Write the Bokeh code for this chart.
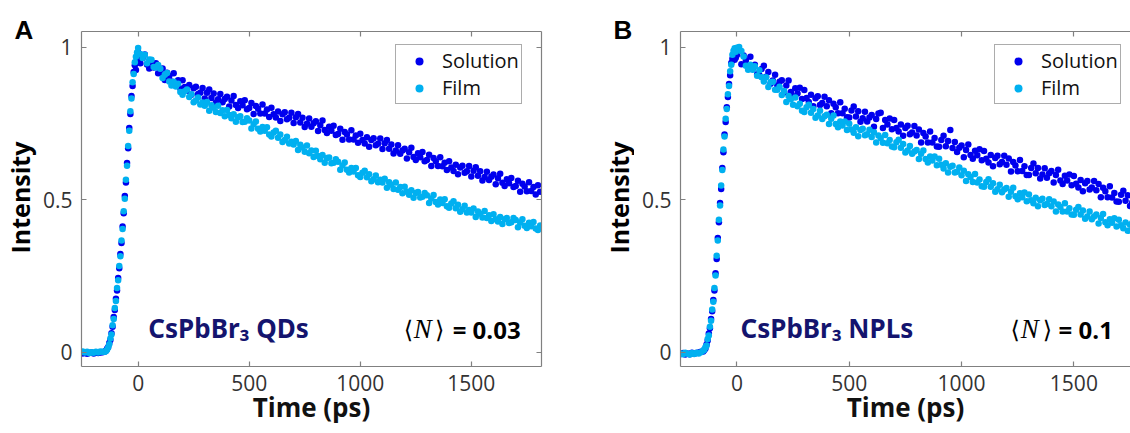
import math
from bokeh.plotting import figure
from bokeh.models import Range1d, LinearAxis, Label, Legend, LegendItem, FixedTicker
from bokeh.layouts import row
from bokeh.embed import file_html
from bokeh.resources import INLINE

# ---------------- data ----------------
time_ps = list(range(-250, -150, 10)) + list(range(-150, 0, 5)) + list(range(0, 1820, 10))

qd_solution = [
    -0.004, -0.002, -0.005, -0.003, -0.001, -0.004, -0.002, -0.003, -0.001, 0.000,
    0.002, 0.005, 0.011, 0.017, 0.030, 0.040, 0.062, 0.083, 0.115, 0.138,
    0.175, 0.202, 0.243, 0.275, 0.322, 0.358, 0.412, 0.455, 0.512, 0.556,
    0.620, 0.668, 0.735, 0.781, 0.840, 0.872, 0.918, 0.940, 0.925, 0.960,
    0.982, 0.947, 0.964, 0.976, 0.943, 0.930, 0.949, 0.933, 0.947, 0.914,
    0.915, 0.930, 0.892, 0.916, 0.905, 0.887, 0.914, 0.881, 0.891, 0.864,
    0.891, 0.869, 0.857, 0.876, 0.844, 0.865, 0.870, 0.846, 0.850, 0.866,
    0.831, 0.850, 0.861, 0.833, 0.848, 0.818, 0.829, 0.846, 0.819, 0.830,
    0.837, 0.805, 0.825, 0.840, 0.810, 0.800, 0.822, 0.809, 0.826, 0.796,
    0.800, 0.817, 0.781, 0.807, 0.798, 0.782, 0.812, 0.782, 0.795, 0.771,
    0.801, 0.780, 0.769, 0.789, 0.758, 0.780, 0.786, 0.763, 0.768, 0.785,
    0.751, 0.770, 0.781, 0.753, 0.768, 0.738, 0.749, 0.766, 0.739, 0.750,
    0.757, 0.725, 0.744, 0.759, 0.728, 0.718, 0.739, 0.726, 0.742, 0.712,
    0.715, 0.732, 0.696, 0.722, 0.713, 0.697, 0.727, 0.697, 0.710, 0.686,
    0.716, 0.695, 0.684, 0.704, 0.673, 0.695, 0.701, 0.678, 0.683, 0.700,
    0.666, 0.685, 0.695, 0.667, 0.681, 0.651, 0.661, 0.678, 0.650, 0.661,
    0.667, 0.635, 0.655, 0.670, 0.640, 0.630, 0.652, 0.639, 0.656, 0.626,
    0.630, 0.647, 0.610, 0.636, 0.626, 0.610, 0.639, 0.609, 0.621, 0.597,
    0.626, 0.605, 0.594, 0.614, 0.583, 0.605, 0.611, 0.588, 0.593, 0.610,
    0.576, 0.595, 0.606, 0.578, 0.593, 0.563, 0.574, 0.591, 0.564, 0.575,
    0.582, 0.550, 0.570, 0.585, 0.555, 0.545, 0.567, 0.554, 0.571, 0.541,
    0.545, 0.562, 0.526, 0.552, 0.543, 0.527, 0.557, 0.528, 0.541, 0.517,
    0.547, 0.526,
]

qd_film = [
    0.002, -0.001, 0.001, -0.003, 0.000, -0.002, 0.001, -0.001, 0.002, 0.001,
    0.001, 0.004, 0.008, 0.015, 0.026, 0.045, 0.058, 0.088, 0.109, 0.145,
    0.168, 0.210, 0.236, 0.282, 0.314, 0.366, 0.404, 0.462, 0.503, 0.565,
    0.611, 0.676, 0.726, 0.790, 0.831, 0.885, 0.912, 0.950, 0.968, 0.982,
    0.997, 0.977, 0.964, 0.975, 0.947, 0.959, 0.958, 0.935, 0.933, 0.941,
    0.929, 0.899, 0.909, 0.915, 0.887, 0.874, 0.886, 0.871, 0.880, 0.853,
    0.844, 0.855, 0.861, 0.836, 0.845, 0.819, 0.825, 0.835, 0.812, 0.818,
    0.808, 0.820, 0.791, 0.809, 0.801, 0.787, 0.808, 0.784, 0.793, 0.773,
    0.794, 0.777, 0.767, 0.780, 0.755, 0.770, 0.773, 0.754, 0.755, 0.767,
    0.759, 0.733, 0.747, 0.756, 0.732, 0.723, 0.738, 0.726, 0.737, 0.713,
    0.707, 0.720, 0.726, 0.703, 0.713, 0.689, 0.695, 0.706, 0.684, 0.690,
    0.681, 0.692, 0.663, 0.680, 0.671, 0.657, 0.677, 0.652, 0.661, 0.640,
    0.660, 0.643, 0.632, 0.646, 0.621, 0.636, 0.638, 0.619, 0.621, 0.632,
    0.624, 0.598, 0.612, 0.622, 0.598, 0.589, 0.604, 0.592, 0.604, 0.580,
    0.574, 0.588, 0.595, 0.573, 0.583, 0.560, 0.567, 0.579, 0.557, 0.565,
    0.556, 0.568, 0.539, 0.557, 0.549, 0.535, 0.556, 0.532, 0.541, 0.521,
    0.542, 0.526, 0.516, 0.531, 0.506, 0.522, 0.525, 0.507, 0.509, 0.522,
    0.514, 0.489, 0.504, 0.515, 0.492, 0.484, 0.500, 0.489, 0.501, 0.478,
    0.473, 0.487, 0.495, 0.472, 0.483, 0.460, 0.468, 0.480, 0.458, 0.466,
    0.458, 0.471, 0.443, 0.461, 0.454, 0.441, 0.463, 0.440, 0.449, 0.430,
    0.452, 0.436, 0.428, 0.443, 0.420, 0.436, 0.440, 0.423, 0.426, 0.440,
    0.433, 0.409, 0.425, 0.436, 0.414, 0.407, 0.424, 0.413, 0.427, 0.405,
    0.400, 0.415,
]

npl_solution = [
    -0.006, -0.003, -0.008, -0.004, -0.007, -0.002, -0.005, -0.003, -0.001, 0.001,
    0.002, 0.007, 0.012, 0.025, 0.038, 0.061, 0.078, 0.109, 0.134, 0.171,
    0.202, 0.259, 0.305, 0.374, 0.426, 0.489, 0.535, 0.604, 0.655, 0.713,
    0.754, 0.803, 0.836, 0.879, 0.908, 0.948, 0.962, 0.971, 0.958, 0.965,
    0.974, 0.991, 0.944, 0.972, 0.957, 0.934, 0.968, 0.929, 0.942, 0.911,
    0.908, 0.928, 0.939, 0.903, 0.918, 0.880, 0.890, 0.909, 0.874, 0.886,
    0.891, 0.851, 0.874, 0.890, 0.853, 0.839, 0.865, 0.848, 0.867, 0.830,
    0.859, 0.833, 0.820, 0.844, 0.806, 0.832, 0.839, 0.810, 0.817, 0.837,
    0.806, 0.826, 0.783, 0.814, 0.803, 0.783, 0.819, 0.783, 0.798, 0.770,
    0.769, 0.792, 0.805, 0.772, 0.790, 0.755, 0.767, 0.788, 0.756, 0.769,
    0.777, 0.739, 0.764, 0.782, 0.785, 0.735, 0.761, 0.746, 0.766, 0.731,
    0.761, 0.735, 0.723, 0.746, 0.709, 0.735, 0.742, 0.714, 0.720, 0.741,
    0.710, 0.730, 0.687, 0.718, 0.707, 0.687, 0.723, 0.687, 0.702, 0.674,
    0.673, 0.695, 0.709, 0.675, 0.692, 0.728, 0.669, 0.689, 0.656, 0.670,
    0.677, 0.639, 0.663, 0.681, 0.646, 0.634, 0.660, 0.645, 0.665, 0.629,
    0.659, 0.634, 0.622, 0.646, 0.609, 0.636, 0.644, 0.616, 0.623, 0.644,
    0.614, 0.635, 0.592, 0.623, 0.612, 0.593, 0.630, 0.594, 0.609, 0.581,
    0.581, 0.604, 0.618, 0.586, 0.604, 0.569, 0.582, 0.603, 0.572, 0.586,
    0.594, 0.556, 0.581, 0.598, 0.563, 0.551, 0.578, 0.563, 0.582, 0.547,
    0.577, 0.552, 0.540, 0.564, 0.527, 0.554, 0.561, 0.533, 0.540, 0.561,
    0.531, 0.551, 0.508, 0.539, 0.527, 0.508, 0.544, 0.507, 0.522, 0.494,
    0.493, 0.516, 0.529, 0.496, 0.514, 0.479, 0.491, 0.512, 0.480, 0.493,
    0.501, 0.463,
]

npl_film = [
    -0.004, -0.007, -0.002, -0.005, -0.008, -0.003, -0.006, -0.002, -0.004, 0.000,
    0.005, 0.009, 0.016, 0.022, 0.043, 0.055, 0.083, 0.103, 0.140, 0.165,
    0.210, 0.251, 0.316, 0.366, 0.434, 0.481, 0.546, 0.597, 0.664, 0.707,
    0.765, 0.797, 0.845, 0.872, 0.921, 0.942, 0.975, 0.988, 0.996, 0.985,
    0.998, 1.000, 0.987, 0.969, 0.939, 0.926, 0.942, 0.926, 0.937, 0.906,
    0.924, 0.901, 0.887, 0.901, 0.869, 0.885, 0.886, 0.860, 0.860, 0.870,
    0.843, 0.856, 0.820, 0.840, 0.829, 0.811, 0.835, 0.806, 0.814, 0.791,
    0.787, 0.803, 0.811, 0.785, 0.797, 0.768, 0.776, 0.791, 0.764, 0.773,
    0.778, 0.748, 0.765, 0.776, 0.748, 0.737, 0.756, 0.743, 0.756, 0.728,
    0.749, 0.730, 0.719, 0.737, 0.708, 0.728, 0.732, 0.711, 0.714, 0.729,
    0.705, 0.721, 0.687, 0.710, 0.701, 0.686, 0.712, 0.685, 0.695, 0.674,
    0.672, 0.688, 0.696, 0.670, 0.682, 0.654, 0.661, 0.676, 0.650, 0.658,
    0.663, 0.633, 0.650, 0.661, 0.633, 0.622, 0.641, 0.628, 0.641, 0.613,
    0.634, 0.614, 0.602, 0.619, 0.589, 0.608, 0.611, 0.589, 0.591, 0.605,
    0.580, 0.595, 0.561, 0.583, 0.574, 0.558, 0.584, 0.556, 0.566, 0.544,
    0.542, 0.558, 0.567, 0.542, 0.554, 0.526, 0.534, 0.549, 0.524, 0.533,
    0.538, 0.509, 0.526, 0.539, 0.511, 0.501, 0.521, 0.508, 0.523, 0.495,
    0.517, 0.498, 0.488, 0.506, 0.478, 0.498, 0.503, 0.482, 0.486, 0.501,
    0.478, 0.494, 0.461, 0.484, 0.476, 0.461, 0.488, 0.461, 0.472, 0.451,
    0.450, 0.467, 0.476, 0.451, 0.464, 0.437, 0.445, 0.461, 0.436, 0.445,
    0.451, 0.422, 0.440, 0.453, 0.426, 0.416, 0.436, 0.424, 0.439, 0.412,
    0.434, 0.416, 0.406, 0.425, 0.398, 0.418, 0.424, 0.403, 0.408, 0.424,
    0.401, 0.418,
]

series_names = ["Solution", "Film"]
x_ticks = [0, 500, 1000, 1500]
y_ticks = [0, 0.5, 1]
y_tick_labels = {0: "0", 0.5: "0.5", 1: "1"}

SOL_COLOR = "#0000ee"
FILM_COLOR = "#00b0f0"
NAVY = "#14146e"
AX_COLOR = "#808080"
TICK_TXT = "#333333"
FONT = "Open Sans"
H = 433


def style_axis(ax, ticks, show_labels=True):
    ax.ticker = FixedTicker(ticks=ticks)
    ax.axis_line_color = AX_COLOR
    ax.axis_line_width = 1.2
    ax.major_tick_line_color = AX_COLOR
    ax.major_tick_line_width = 1.2
    ax.major_tick_in = 5
    ax.major_tick_out = 0
    ax.minor_tick_line_color = None
    if show_labels:
        ax.major_label_text_font = FONT
        ax.major_label_text_font_size = "21px"
        ax.major_label_text_color = TICK_TXT
    else:
        ax.major_label_overrides = {t: "" for t in ticks}
        ax.major_label_text_font_size = "1px"
        ax.major_label_standoff = 0


def lab(p, x, y, text, size, font=FONT, style="normal", color="#000000",
        align="left", angle=0.0):
    p.add_layout(Label(x=x, y=y, text=text, text_font=font,
                       text_font_size=f"{size}px", text_font_style=style,
                       text_color=color, text_align=align,
                       text_baseline="middle", angle=angle))


def make_strip(width, letter, letter_x, ylab_x):
    s = figure(width=width, height=H, x_range=Range1d(0, width),
               y_range=Range1d(H, 0), output_backend="svg",
               toolbar_location=None, min_border=0,
               x_axis_location=None, y_axis_location=None)
    try:
        s.frame_align = False
    except Exception:
        pass
    s.xgrid.grid_line_color = None
    s.ygrid.grid_line_color = None
    s.outline_line_color = None
    lab(s, letter_x, 29, letter, 26, font="Liberation Sans", style="bold")
    lab(s, ylab_x, 197, "Intensity", 25, style="bold", align="center",
        angle=math.pi / 2)
    return s


def make_panel(sol, film, x_start, x_end, width, left, right, right_axis,
               sample, sample_x, n_value, n_pos):
    p = figure(width=width, height=H,
               x_range=Range1d(x_start, x_end), y_range=Range1d(-0.047, 1.051),
               output_backend="svg", toolbar_location=None,
               min_border_left=left, min_border_right=right,
               min_border_top=31, min_border_bottom=67)
    p.xgrid.grid_line_color = None
    p.ygrid.grid_line_color = None
    p.outline_line_color = None
    p.background_fill_color = "white"
    p.border_fill_color = "white"

    xa = p.xaxis[0]
    style_axis(xa, x_ticks)
    xa.major_label_standoff = 8
    xa.axis_label = "Time (ps)"
    xa.axis_label_text_font = FONT
    xa.axis_label_text_font_style = "bold"
    xa.axis_label_text_font_size = "26px"
    xa.axis_label_text_color = "#111111"
    xa.axis_label_standoff = -5

    ya = p.yaxis[0]
    style_axis(ya, y_ticks)
    ya.major_label_standoff = 9
    ya.major_label_overrides = y_tick_labels

    top = LinearAxis()
    style_axis(top, x_ticks, show_labels=False)
    p.add_layout(top, "above")
    if right_axis:
        rax = LinearAxis()
        style_axis(rax, y_ticks, show_labels=False)
        p.add_layout(rax, "right")

    r1 = p.scatter(time_ps, sol, size=6.5, marker="circle",
                   fill_color=SOL_COLOR, line_color=None)
    r2 = p.scatter(time_ps, film, size=6.5, marker="circle",
                   fill_color=FILM_COLOR, line_color=None)

    legend = Legend(items=[LegendItem(label=series_names[0], renderers=[r1]),
                           LegendItem(label=series_names[1], renderers=[r2])],
                    location=(314, 262))
    legend.label_text_font = FONT
    legend.label_text_font_size = "20px"
    legend.label_text_color = "#111111"
    legend.glyph_width = 42
    legend.glyph_height = 20
    legend.label_height = 22
    legend.label_standoff = 2
    legend.padding = 2
    legend.spacing = 0
    legend.margin = 0
    legend.border_line_color = "#5a5a5a"
    legend.border_line_width = 1
    legend.background_fill_color = "white"
    legend.background_fill_alpha = 1.0
    p.add_layout(legend)

    lab(p, sample_x, 0.078, sample, 26, font="Noto Sans", style="bold", color=NAVY)
    lab(p, n_pos[0], 0.072, "\u27e8", 24, font="DejaVu Sans")
    lab(p, n_pos[1], 0.075, "N", 27, font="Liberation Serif", style="italic")
    lab(p, n_pos[2], 0.072, "\u27e9", 24, font="DejaVu Sans")
    lab(p, n_pos[3], 0.075, "= " + n_value, 24, style="bold")
    return p


stripA = make_strip(39, "A", 14, 19)
pA = make_panel(qd_solution, qd_film, -255, 1816, 541, 41, 39, True,
                "CsPbBr\u2083 QDs", 46, "0.03", (1196, 1241, 1336, 1416))
stripB = make_strip(54, "B", 33, 38)
pB = make_panel(npl_solution, npl_film, -251, 1752, 496, 46, 0, False,
                "CsPbBr\u2083 NPLs", 16, "0.1", (1218, 1263, 1361, 1432))

layout = row(stripA, pA, stripB, pB)
open("out.html", "w").write(file_html(layout, INLINE))
